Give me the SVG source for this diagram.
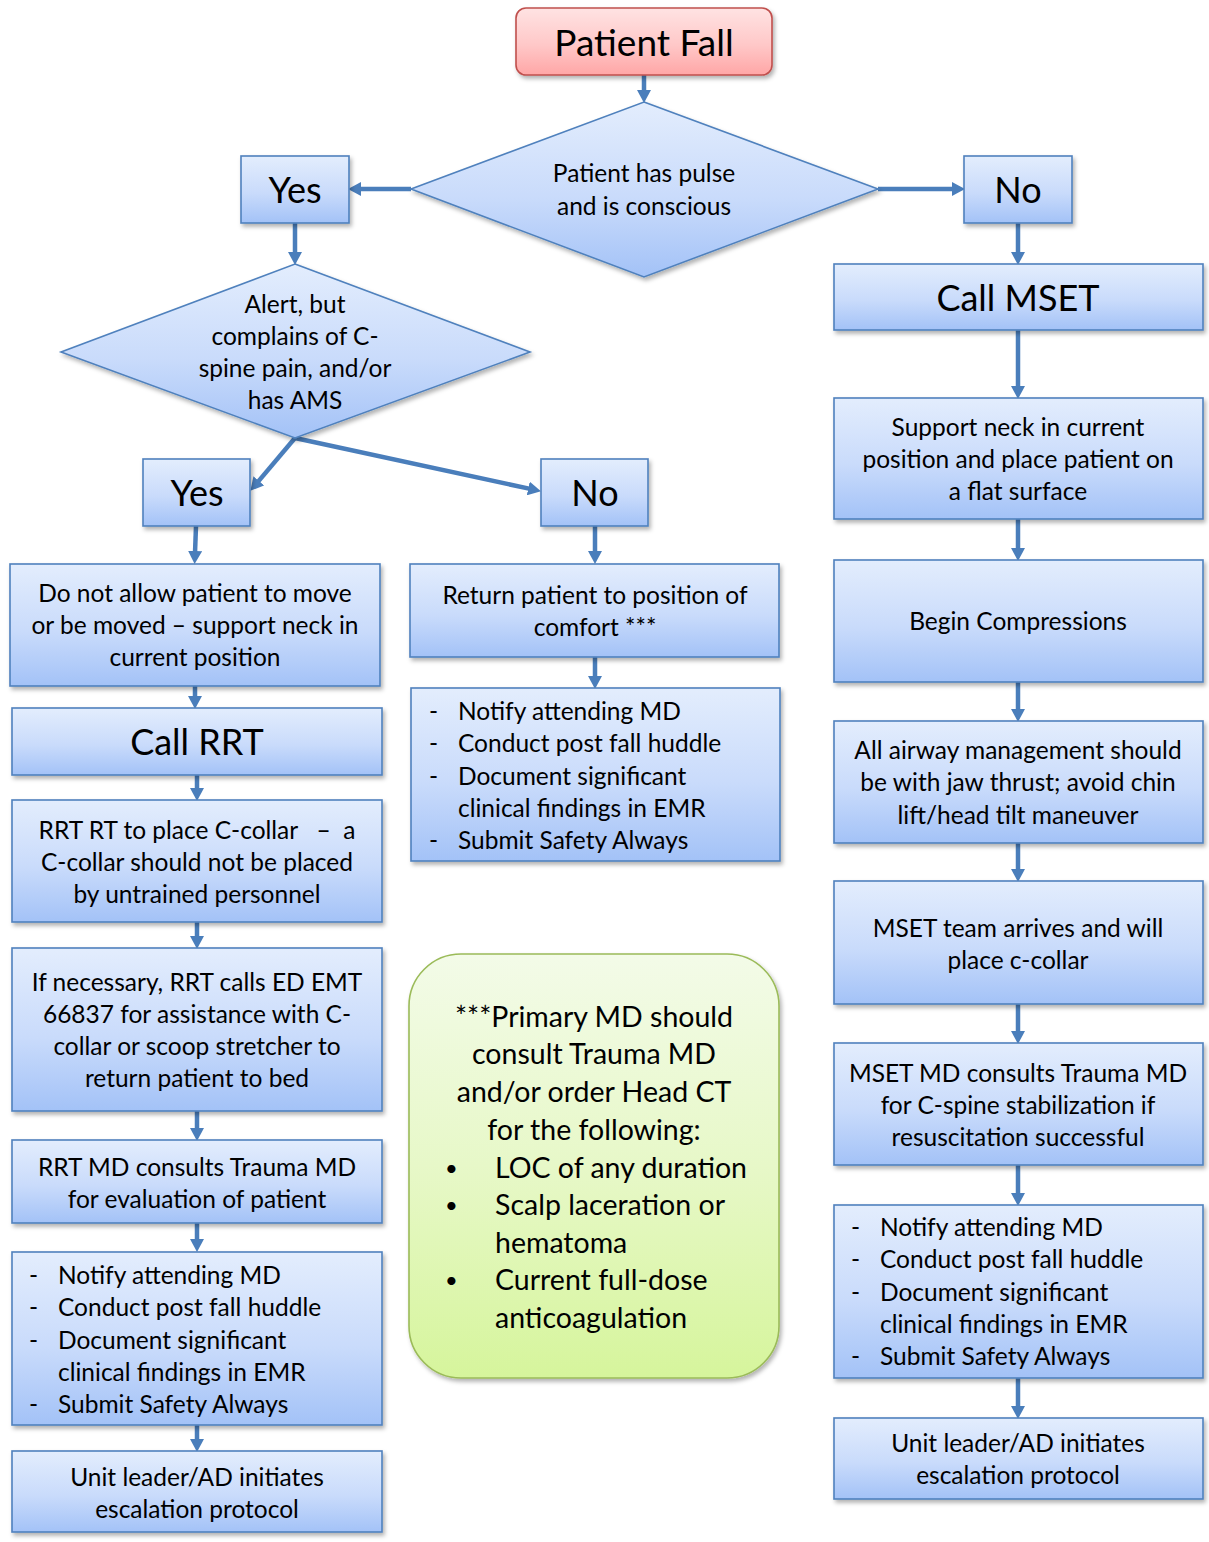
<svg xmlns="http://www.w3.org/2000/svg" width="1209" height="1542" viewBox="0 0 1209 1542">
<defs>
<linearGradient id="gBlue" x1="0" y1="0" x2="0" y2="1">
<stop offset="0" stop-color="#e3edfd"/>
<stop offset="0.55" stop-color="#c9dbfb"/>
<stop offset="1" stop-color="#a3c2f7"/>
</linearGradient>
<linearGradient id="gRed" x1="0" y1="0" x2="0" y2="1">
<stop offset="0" stop-color="#ffe3e3"/>
<stop offset="0.55" stop-color="#ffc8c8"/>
<stop offset="1" stop-color="#ffa6a6"/>
</linearGradient>
<linearGradient id="gGreen" x1="0" y1="0" x2="0" y2="1">
<stop offset="0" stop-color="#f3fbe8"/>
<stop offset="0.5" stop-color="#e7f8c8"/>
<stop offset="1" stop-color="#d6f59c"/>
</linearGradient>
<filter id="sh" x="-10%" y="-10%" width="130%" height="130%">
<feDropShadow dx="2" dy="3" stdDeviation="2" flood-color="#000" flood-opacity="0.3"/>
</filter>
<marker id="ah" markerUnits="userSpaceOnUse" markerWidth="14" markerHeight="14" refX="2" refY="7" orient="auto">
<path d="M0,0 L13,7 L0,14 z" fill="#4a7ebb"/>
</marker>
</defs>
<style>
.box{fill:url(#gBlue);stroke:#4f81bd;stroke-width:1.6;filter:url(#sh)}
.red{fill:url(#gRed);stroke:#c0504d;stroke-width:1.6;filter:url(#sh)}
.green{fill:url(#gGreen);stroke:#9bbb59;stroke-width:1.6;filter:url(#sh)}
.t{font-family:Lato,"Open Sans","Liberation Sans",sans-serif;font-size:24.5px;fill:#000;text-anchor:middle}
.tl{font-family:Lato,"Open Sans","Liberation Sans",sans-serif;font-size:24.5px;fill:#000}
.big{font-family:Lato,"Open Sans","Liberation Sans",sans-serif;font-size:36px;fill:#000;text-anchor:middle}
.g{font-family:Lato,"Open Sans","Liberation Sans",sans-serif;font-size:28.5px;fill:#000}
.gb{font-family:Lato,"Open Sans","Liberation Sans",sans-serif;font-size:22px;fill:#000}
.c{stroke:#4a7ebb;stroke-width:4.5;fill:none;marker-end:url(#ah)}
</style>

<g id="connectors">
<line class="c" x1="644" y1="75" x2="644" y2="92"/>
<line class="c" x1="411" y1="189" x2="359" y2="189"/>
<line class="c" x1="878" y1="189" x2="954" y2="189"/>
<line class="c" x1="295" y1="223" x2="295" y2="254"/>
<line class="c" x1="295" y1="438" x2="257.5" y2="482.4"/>
<line class="c" x1="295" y1="438" x2="530.2" y2="488.9"/>
<line class="c" x1="196" y1="526" x2="195" y2="553"/>
<line class="c" x1="195" y1="686" x2="195" y2="698"/>
<line class="c" x1="197" y1="775" x2="197" y2="790"/>
<line class="c" x1="197" y1="922" x2="197" y2="938"/>
<line class="c" x1="197" y1="1111" x2="197" y2="1130"/>
<line class="c" x1="197" y1="1223" x2="197" y2="1241"/>
<line class="c" x1="197" y1="1425" x2="197" y2="1441"/>
<line class="c" x1="595" y1="526" x2="595" y2="553"/>
<line class="c" x1="595" y1="657" x2="595" y2="678"/>
<line class="c" x1="1018" y1="223" x2="1018" y2="254"/>
<line class="c" x1="1018" y1="330" x2="1018" y2="388"/>
<line class="c" x1="1018" y1="519" x2="1018" y2="550"/>
<line class="c" x1="1018" y1="682" x2="1018" y2="711"/>
<line class="c" x1="1018" y1="843" x2="1018" y2="871"/>
<line class="c" x1="1018" y1="1004" x2="1018" y2="1033"/>
<line class="c" x1="1018" y1="1165" x2="1018" y2="1195"/>
<line class="c" x1="1018" y1="1378" x2="1018" y2="1408"/>
</g>

<g id="patient-fall">
<rect class="red" x="516" y="8" width="256" height="67" rx="10"/>
<text class="big" x="644" y="56" style="font-size:37px">Patient Fall</text>
</g>

<g id="d-pulse">
<polygon class="box" points="644,102 878,189 644,277 411,189"/>
<text class="t" x="644" y="182">Patient has pulse</text>
<text class="t" x="644" y="215">and is conscious</text>
</g>

<g id="yes1">
<rect class="box" x="241" y="156" width="108" height="67"/>
<text class="big" x="295" y="203">Yes</text>
</g>

<g id="no1">
<rect class="box" x="964" y="156" width="108" height="67"/>
<text class="big" x="1018" y="203">No</text>
</g>

<g id="d-alert">
<polygon class="box" points="295,264 530,352 295,438 61,352"/>
<text class="t" x="295" y="313">Alert, but</text>
<text class="t" x="295" y="345">complains of C-</text>
<text class="t" x="295" y="377">spine pain, and/or</text>
<text class="t" x="295" y="409">has AMS</text>
</g>

<g id="yes2">
<rect class="box" x="143" y="459" width="107" height="67"/>
<text class="big" x="197" y="506">Yes</text>
</g>

<g id="no2">
<rect class="box" x="541" y="459" width="107" height="67"/>
<text class="big" x="595" y="506">No</text>
</g>

<g id="no-move">
<rect class="box" x="10" y="564" width="370" height="122"/>
<text class="t" x="195" y="602">Do not allow patient to move</text>
<text class="t" x="195" y="634">or be moved – support neck in</text>
<text class="t" x="195" y="666">current position</text>
</g>

<g id="call-rrt">
<rect class="box" x="12" y="708" width="370" height="67"/>
<text class="big" x="197" y="755">Call RRT</text>
</g>

<g id="rrt-collar">
<rect class="box" x="12" y="800" width="370" height="122"/>
<text class="t" x="197" y="839" xml:space="preserve">RRT RT to place C-collar   –  a</text>
<text class="t" x="197" y="871">C-collar should not be placed</text>
<text class="t" x="197" y="903">by untrained personnel</text>
</g>

<g id="rrt-emt">
<rect class="box" x="12" y="948" width="370" height="163"/>
<text class="t" x="197" y="991">If necessary, RRT calls ED EMT</text>
<text class="t" x="197" y="1023">66837 for assistance with C-</text>
<text class="t" x="197" y="1055">collar or scoop stretcher to</text>
<text class="t" x="197" y="1087">return patient to bed</text>
</g>

<g id="rrt-md">
<rect class="box" x="12" y="1140" width="370" height="83"/>
<text class="t" x="197" y="1176">RRT MD consults Trauma MD</text>
<text class="t" x="197" y="1208">for evaluation of patient</text>
</g>

<g id="left-list">
<rect class="box" x="12" y="1252" width="370" height="173"/>
<text class="tl" x="29" y="1284">-</text><text class="tl" x="58" y="1284">Notify attending MD</text>
<text class="tl" x="29" y="1316">-</text><text class="tl" x="58" y="1316">Conduct post fall huddle</text>
<text class="tl" x="29" y="1349">-</text><text class="tl" x="58" y="1349">Document significant</text>
<text class="tl" x="58" y="1381">clinical findings in EMR</text>
<text class="tl" x="29" y="1413">-</text><text class="tl" x="58" y="1413">Submit Safety Always</text>
</g>

<g id="left-escalation">
<rect class="box" x="12" y="1451" width="370" height="81"/>
<text class="t" x="197" y="1486">Unit leader/AD initiates</text>
<text class="t" x="197" y="1518">escalation protocol</text>
</g>

<g id="comfort">
<rect class="box" x="410" y="564" width="369" height="93"/>
<text class="t" x="595" y="604">Return patient to position of</text>
<text class="t" x="595" y="636">comfort ***</text>
</g>

<g id="mid-list">
<rect class="box" x="411" y="688" width="369" height="173"/>
<text class="tl" x="429" y="720">-</text><text class="tl" x="458" y="720">Notify attending MD</text>
<text class="tl" x="429" y="752">-</text><text class="tl" x="458" y="752">Conduct post fall huddle</text>
<text class="tl" x="429" y="785">-</text><text class="tl" x="458" y="785">Document significant</text>
<text class="tl" x="458" y="817">clinical findings in EMR</text>
<text class="tl" x="429" y="849">-</text><text class="tl" x="458" y="849">Submit Safety Always</text>
</g>

<g id="note">
<rect class="green" x="409" y="954" width="370" height="424" rx="52"/>
<text class="g" x="594" y="1027" text-anchor="middle">***Primary MD should</text>
<text class="g" x="594" y="1064" text-anchor="middle">consult Trauma MD</text>
<text class="g" x="594" y="1102" text-anchor="middle">and/or order Head CT</text>
<text class="g" x="594" y="1140" text-anchor="middle">for the following:</text>
<text class="gb" x="445" y="1176">•</text><text class="g" x="495" y="1178">LOC of any duration</text>
<text class="gb" x="445" y="1213">•</text><text class="g" x="495" y="1215">Scalp laceration or</text>
<text class="g" x="495" y="1253">hematoma</text>
<text class="gb" x="445" y="1288">•</text><text class="g" x="495" y="1290">Current full-dose</text>
<text class="g" x="495" y="1328">anticoagulation</text>
</g>

<g id="call-mset">
<rect class="box" x="834" y="264" width="369" height="66"/>
<text class="big" x="1018" y="311">Call MSET</text>
</g>

<g id="support-neck">
<rect class="box" x="834" y="398" width="369" height="121"/>
<text class="t" x="1018" y="436">Support neck in current</text>
<text class="t" x="1018" y="468">position and place patient on</text>
<text class="t" x="1018" y="500">a flat surface</text>
</g>

<g id="compressions">
<rect class="box" x="834" y="560" width="369" height="122"/>
<text class="t" x="1018" y="630">Begin Compressions</text>
</g>

<g id="airway">
<rect class="box" x="834" y="721" width="369" height="122"/>
<text class="t" x="1018" y="759">All airway management should</text>
<text class="t" x="1018" y="791">be with jaw thrust; avoid chin</text>
<text class="t" x="1018" y="824">lift/head tilt maneuver</text>
</g>

<g id="mset-team">
<rect class="box" x="834" y="881" width="369" height="123"/>
<text class="t" x="1018" y="937">MSET team arrives and will</text>
<text class="t" x="1018" y="969">place c-collar</text>
</g>

<g id="mset-md">
<rect class="box" x="834" y="1043" width="369" height="122"/>
<text class="t" x="1018" y="1082">MSET MD consults Trauma MD</text>
<text class="t" x="1018" y="1114">for C-spine stabilization if</text>
<text class="t" x="1018" y="1146">resuscitation successful</text>
</g>

<g id="right-list">
<rect class="box" x="834" y="1205" width="369" height="173"/>
<text class="tl" x="851" y="1236">-</text><text class="tl" x="880" y="1236">Notify attending MD</text>
<text class="tl" x="851" y="1268">-</text><text class="tl" x="880" y="1268">Conduct post fall huddle</text>
<text class="tl" x="851" y="1301">-</text><text class="tl" x="880" y="1301">Document significant</text>
<text class="tl" x="880" y="1333">clinical findings in EMR</text>
<text class="tl" x="851" y="1365">-</text><text class="tl" x="880" y="1365">Submit Safety Always</text>
</g>

<g id="right-escalation">
<rect class="box" x="834" y="1418" width="369" height="81"/>
<text class="t" x="1018" y="1452">Unit leader/AD initiates</text>
<text class="t" x="1018" y="1484">escalation protocol</text>
</g>
</svg>
